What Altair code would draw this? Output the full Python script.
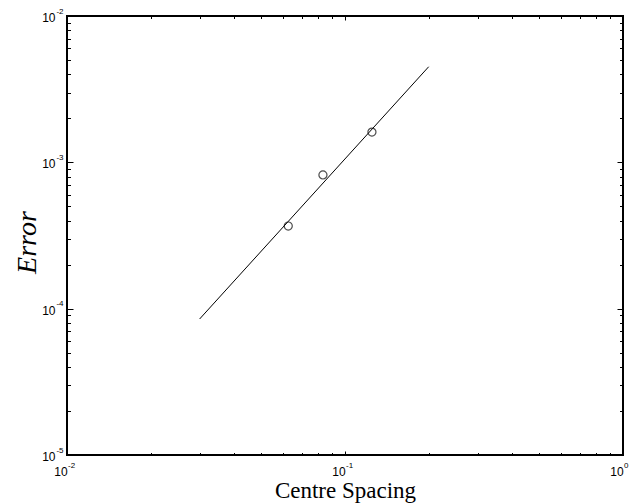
import math
import altair as alt
import pandas as pd

# measured points (circles)
pts_x = [0.0625, 0.0833, 0.125]
pts_y = [3.67e-4, 8.2e-4, 1.61e-3]
# fitted line end points
fit_x = [0.03, 0.2]
fit_y = [8.5e-5, 4.5e-3]

# axis ticks and labels
x_major = [0.01, 0.1, 1.0]
x_exp = ["-2", "-1", "0"]
x_minor = [0.02, 0.03, 0.04, 0.05, 0.06, 0.07, 0.08, 0.09,
           0.2, 0.3, 0.4, 0.5, 0.6, 0.7, 0.8, 0.9]
y_major = [1e-5, 1e-4, 1e-3, 1e-2]
y_exp = ["-5", "-4", "-3", "-2"]
y_minor = [2e-5, 3e-5, 4e-5, 5e-5, 6e-5, 7e-5, 8e-5, 9e-5,
           2e-4, 3e-4, 4e-4, 5e-4, 6e-4, 7e-4, 8e-4, 9e-4,
           2e-3, 3e-3, 4e-3, 5e-3, 6e-3, 7e-3, 8e-3, 9e-3]

pts = pd.DataFrame({"x": pts_x, "y": pts_y})
fit = pd.DataFrame({"x": fit_x, "y": fit_y})

SANS = "Liberation Sans"
SERIF = "Liberation Serif"
TICK = "black"


def exp_expr(vals, labels):
    parts = []
    for v, l in zip(vals, labels):
        e = round(math.log10(v))
        parts.append(f"abs(log(datum.value)/LN10 - ({e})) < 0.01 ? '{l}'")
    return " : ".join(parts) + " : ''"


xs = alt.Scale(type="log", domain=[0.01, 1.0], nice=False)
ys = alt.Scale(type="log", domain=[1e-5, 1e-2], nice=False)

common = dict(grid=False, domain=False, tickColor=TICK, tickWidth=1,
              labelColor="black", labelFont=SANS, labelFlush=False,
              labelOverlap=False, labelBound=False)


def ticks_axis(orient, values, size):
    return alt.Axis(orient=orient, values=values, offset=-size, tickSize=size,
                    labels=False, title=None, **common)


xa_major_bottom = alt.Axis(orient="bottom", values=x_major, offset=-4, tickSize=4,
                           labelExpr="'10'", labelFontSize=12, labelAlign="center",
                           labelBaseline="alphabetic", labelPadding=20, labelOffset=-6.5,
                           title=None, **common)
xa_exp_bottom = alt.Axis(orient="bottom", values=x_major, tickSize=0, ticks=False,
                         labelExpr=exp_expr(x_major, x_exp), labelFontSize=8,
                         labelAlign="left", labelBaseline="alphabetic",
                         labelPadding=12, labelOffset=0.5,
                         title="Centre Spacing", titleFont=SERIF, titleFontSize=23,
                         titleFontWeight="normal", titleColor="black",
                         titleBaseline="alphabetic", titleY=42, **common)
ya_major_left = alt.Axis(orient="left", values=y_major, offset=-6, tickSize=6,
                         labelExpr="'10'", labelFontSize=12, labelAlign="right",
                         labelBaseline="alphabetic", labelPadding=12, labelOffset=5.5,
                         title=None, **common)
ya_exp_left = alt.Axis(orient="left", values=y_major, tickSize=0, ticks=False,
                       labelExpr=exp_expr(y_major, y_exp), labelFontSize=8,
                       labelAlign="right", labelBaseline="alphabetic",
                       labelPadding=4, labelOffset=-3,
                       title="Error", titleFont=SERIF, titleFontSize=28,
                       titleFontStyle="italic", titleFontWeight="normal",
                       titleColor="black", titleAngle=270, titleAlign="center",
                       titleBaseline="alphabetic", titleX=-32, titleY=226, **common)

line = alt.Chart(fit).mark_line(color="black", strokeWidth=1).encode(
    x=alt.X("x:Q", scale=xs, axis=xa_major_bottom),
    y=alt.Y("y:Q", scale=ys, axis=ya_major_left),
)
points = alt.Chart(pts).mark_point(shape="circle", size=65, color="black",
                                   filled=False, strokeWidth=1.2).encode(
    x=alt.X("x:Q", scale=xs, axis=xa_exp_bottom),
    y=alt.Y("y:Q", scale=ys, axis=ya_exp_left),
)


def ghost(xaxis, yaxis):
    return alt.Chart(pts).mark_point(opacity=0).encode(
        x=alt.X("x:Q", scale=xs, axis=xaxis),
        y=alt.Y("y:Q", scale=ys, axis=yaxis),
    )


g1 = ghost(ticks_axis("bottom", x_minor, 2.5), ticks_axis("left", y_minor, 3.5))
g2 = ghost(ticks_axis("top", x_major, 4), ticks_axis("right", y_major, 6))
g3 = ghost(ticks_axis("top", x_minor, 2.5), ticks_axis("right", y_minor, 3.5))

chart = alt.layer(line, points, g1, g2, g3).resolve_axis(
    x="independent", y="independent"
).properties(
    width=556, height=439,
    autosize=alt.AutoSizeParams(type="none"),
    padding={"left": 67, "top": 16, "right": 11, "bottom": 49},
    background="white",
).configure_view(stroke="black", strokeWidth=2)

chart.save("out.html", embed_options={"renderer": "svg", "actions": False})
